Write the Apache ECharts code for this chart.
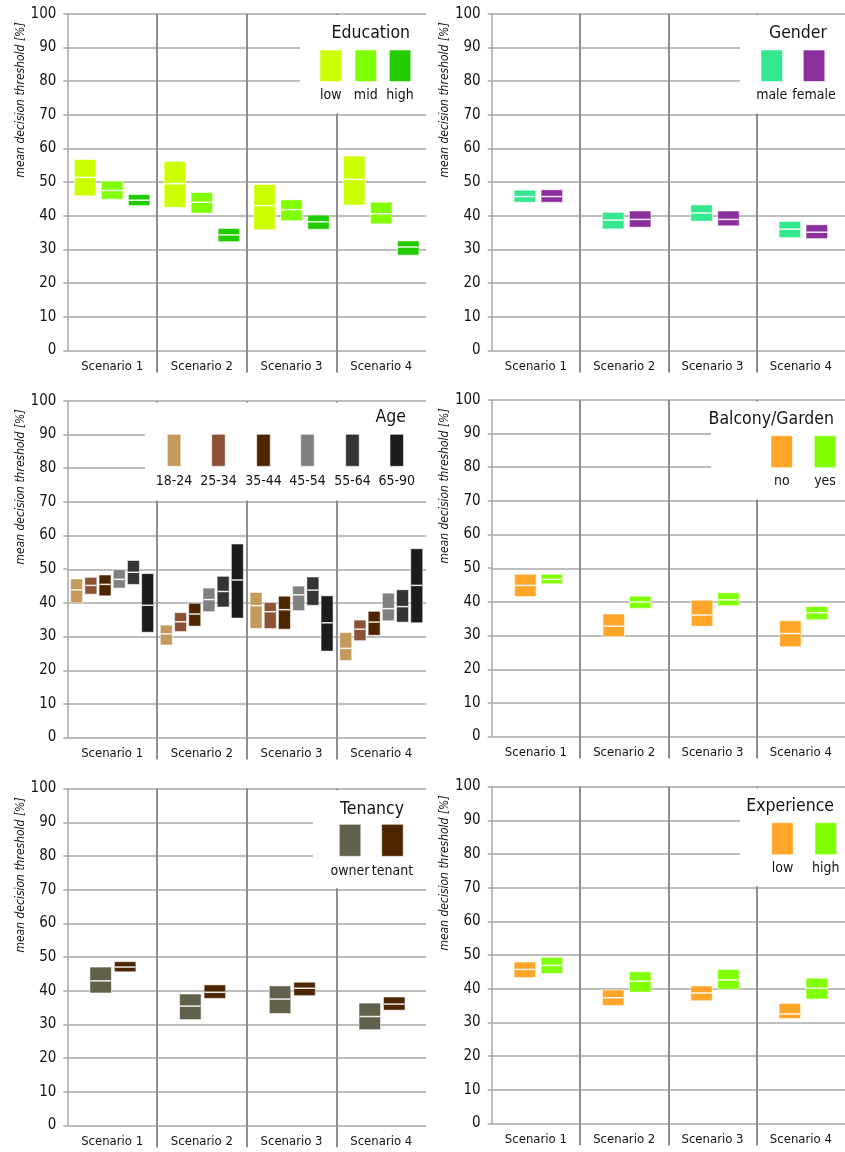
<!DOCTYPE html>
<html>
<head>
<meta charset="utf-8">
<script src="https://cdn.jsdelivr.net/npm/echarts@6/dist/echarts.min.js"></script>
<style>
  html, body { margin: 0; padding: 0; background: #fff; }
  #chart { width: 845px; height: 1152px; }
</style>
</head>
<body>
<div id="chart"></div>
<script>
// ---- data: each entry is [lower, upper, mean] per scenario ----
const scenarios = ['Scenario 1', 'Scenario 2', 'Scenario 3', 'Scenario 4'];
const yTitle = 'mean decision threshold [%]';

const eduGroups = ['low', 'mid', 'high'];
const eduLow  = [[45.9, 56.7, 51.4], [42.5, 56.1, 49.5], [35.8, 49.3, 43.0], [43.2, 57.7, 50.8]];
const eduMid  = [[44.9, 50.3, 47.5], [40.8, 46.9, 44.0], [38.5, 44.7, 41.8], [37.6, 44.0, 40.6]];
const eduHigh = [[43.0, 46.3, 44.6], [32.3, 36.2, 34.3], [36.0, 40.2, 38.2], [28.3, 32.5, 30.7]];

const genderGroups = ['male', 'female'];
const genderMale   = [[44.0, 47.6, 45.7], [36.1, 41.0, 38.7], [38.4, 43.2, 40.8], [33.5, 38.3, 36.0]];
const genderFemale = [[44.0, 47.7, 45.7], [36.6, 41.4, 38.9], [37.0, 41.4, 38.9], [33.2, 37.3, 35.1]];

const ageGroups = ['18-24', '25-34', '35-44', '45-54', '55-64', '65-90'];
const age1824 = [[40.0, 47.1, 43.9], [27.5, 33.4, 30.8], [32.4, 43.1, 39.2], [22.9, 31.2, 26.5]];
const age2534 = [[42.6, 47.6, 45.2], [31.5, 37.1, 34.4], [32.4, 40.1, 37.4], [28.8, 34.9, 32.2]];
const age3544 = [[42.1, 48.3, 45.5], [33.1, 39.9, 36.7], [32.2, 42.0, 38.0], [30.4, 37.5, 34.3]];
const age4554 = [[44.4, 49.9, 47.0], [37.4, 44.4, 41.0], [37.7, 45.0, 42.4], [34.7, 42.9, 38.3]];
const age5564 = [[45.5, 52.6, 49.1], [38.8, 47.9, 43.4], [39.3, 47.7, 43.8], [34.3, 43.9, 38.9]];
const age6590 = [[31.3, 48.7, 39.3], [35.5, 57.5, 46.8], [25.7, 42.1, 34.1], [34.1, 56.1, 45.2]];

const balconyGroups = ['no', 'yes'];
const balconyNo  = [[41.6, 48.2, 44.9], [29.7, 36.4, 32.8], [32.8, 40.5, 36.1], [26.7, 34.4, 30.6]];
const balconyYes = [[45.4, 48.2, 46.7], [38.1, 41.7, 40.0], [38.9, 42.7, 40.6], [34.7, 38.6, 36.8]];

const tenancyGroups = ['owner', 'tenant'];
const tenancyOwner  = [[39.3, 47.0, 42.9], [31.4, 39.0, 35.4], [33.2, 41.4, 37.5], [28.4, 36.3, 32.3]];
const tenancyTenant = [[45.6, 48.6, 47.0], [37.7, 41.7, 39.5], [38.5, 42.5, 40.7], [34.2, 38.1, 36.0]];

const expGroups = ['low', 'high'];
const expLow  = [[43.3, 47.9, 45.7], [35.0, 39.6, 37.3], [36.4, 40.8, 38.7], [31.1, 35.6, 32.5]];
const expHigh = [[44.5, 49.3, 46.9], [39.0, 45.0, 42.2], [39.8, 45.7, 42.6], [36.9, 43.1, 40.1]];

// ---- styling & layout ----
const FONT = '"DejaVu Sans Condensed", "Liberation Sans Narrow", sans-serif';
const TEXT = '#141414';
const GRID_LINE = '#a8a8a8';
const SEP_LINE = '#8e8e8e';
const GRID_W = 358.8;
const GRID_H = 336.7;
const SEP_EXT = 22;

const panels = [
  {
    title: 'Education', groups: eduGroups, values: [eduLow, eduMid, eduHigh],
    colors: ['#ccff00', '#80ff00', '#22cc00'],
    offsets: [-27, 0, 27], boxW: 21.5,
    left: 67.3, top: 13.7, yTitleX: 21, yTitleY: 100,
    cover: [300, 15, 130, 98.5],
    titleRight: 410, titleY: 33,
    swX: [320, 355, 389.3], swY: 50, swW: 21.5, swH: 31.5, labY: 95
  },
  {
    title: 'Gender', groups: genderGroups, values: [genderMale, genderFemale],
    colors: ['#33e88e', '#8a2f9c'],
    offsets: [-11, 16], boxW: 21.5,
    left: 491.7, top: 13.7, yTitleX: 445, yTitleY: 100,
    cover: [740, 15, 110, 98.5],
    titleRight: 827, titleY: 33,
    swX: [761, 803.3], swY: 50, swW: 21.5, swH: 31.5, labY: 95
  },
  {
    title: 'Age', groups: ageGroups,
    values: [age1824, age2534, age3544, age4554, age5564, age6590],
    colors: ['#c49a5c', '#8b5236', '#4d2600', '#808080', '#343434', '#1c1c1c'],
    offsets: [-35.5, -21.3, -7.1, 7.1, 21.3, 35.5], boxW: 12,
    left: 67.3, top: 400.9, yTitleX: 21, yTitleY: 487,
    cover: [145, 402.5, 285, 98],
    titleRight: 406, titleY: 417,
    swX: [167.3, 211.7, 256.7, 300.7, 345.7, 390], swY: 434.3, swW: 13.5, swH: 32, labY: 481
  },
  {
    title: 'Balcony/Garden', groups: balconyGroups, values: [balconyNo, balconyYes],
    colors: ['#ffa628', '#80ff00'],
    offsets: [-10.5, 16], boxW: 21.5,
    left: 491.7, top: 399.9, yTitleX: 445, yTitleY: 486,
    cover: [711, 401.5, 139, 98],
    titleRight: 834, titleY: 419,
    swX: [771, 814.3], swY: 435.7, swW: 21.5, swH: 32, labY: 481
  },
  {
    title: 'Tenancy', groups: tenancyGroups, values: [tenancyOwner, tenancyTenant],
    colors: ['#61614b', '#4d2600'],
    offsets: [-11.5, 13], boxW: 21.5,
    left: 67.3, top: 788.6, yTitleX: 21, yTitleY: 875,
    cover: [313, 790.2, 117, 98],
    titleRight: 404, titleY: 809,
    swX: [339.3, 381.7], swY: 824.3, swW: 21.5, swH: 32, labY: 871
  },
  {
    title: 'Experience', groups: expGroups, values: [expLow, expHigh],
    colors: ['#ffa628', '#80ff00'],
    offsets: [-11, 16], boxW: 21.5,
    left: 491.7, top: 786.6, yTitleX: 445, yTitleY: 873,
    cover: [740, 788.2, 110, 98],
    titleRight: 834, titleY: 806,
    swX: [771.7, 815], swY: 822.7, swW: 21.5, swH: 32, labY: 868
  }
];

// box with a white mean line, placed at a pixel offset from the category centre
function makeRenderItem(offset, boxW, color) {
  return function (params, api) {
    const idx = api.value(0);
    const lo = api.coord([idx, api.value(1)]);
    const hi = api.coord([idx, api.value(2)]);
    const mn = api.coord([idx, api.value(3)]);
    const x = lo[0] + offset - boxW / 2;
    return {
      type: 'group',
      children: [
        {
          type: 'rect',
          shape: { x: x, y: hi[1], width: boxW, height: lo[1] - hi[1] },
          style: { fill: color, stroke: 'rgba(255,255,255,0.55)', lineWidth: 1 }
        },
        {
          type: 'line',
          shape: { x1: x + 0.5, y1: mn[1], x2: x + boxW - 0.5, y2: mn[1] },
          style: { stroke: 'rgba(255,255,255,0.9)', lineWidth: 1.5 }
        }
      ]
    };
  };
}

const grids = [], xAxes = [], yAxes = [], series = [], graphics = [];

panels.forEach(function (p, pi) {
  const g = pi * 2;
  // main plotting area
  grids.push({ left: p.left, top: p.top, width: GRID_W, height: GRID_H });
  // overlay area for the scenario separators (reaching below the axis)
  grids.push({ left: p.left, top: p.top, width: GRID_W, height: GRID_H + SEP_EXT });

  xAxes.push({
    gridIndex: g, type: 'category', data: scenarios, boundaryGap: true,
    axisLine: { show: false }, axisTick: { show: false }, splitLine: { show: false },
    axisLabel: { fontSize: 13, color: TEXT, fontFamily: FONT, margin: 10, interval: 0 }
  });
  xAxes.push({
    gridIndex: g + 1, type: 'category', data: scenarios, boundaryGap: true,
    axisLine: { show: false }, axisTick: { show: false }, axisLabel: { show: false },
    splitLine: {
      show: true, interval: 0, showMinLine: false, showMaxLine: false,
      lineStyle: { color: SEP_LINE, width: 2 }
    }
  });

  yAxes.push({
    gridIndex: g, type: 'value', min: 0, max: 100, interval: 10,
    axisLine: { show: true, lineStyle: { color: GRID_LINE, width: 1.5 } },
    axisTick: { show: true, length: 4, lineStyle: { color: GRID_LINE, width: 1.5 } },
    axisLabel: { fontSize: 15, color: TEXT, fontFamily: FONT, margin: 11 },
    splitLine: { show: true, lineStyle: { color: GRID_LINE, width: 1.5 } }
  });
  yAxes.push({ gridIndex: g + 1, type: 'value', min: 0, max: 100, show: false });

  p.groups.forEach(function (name, k) {
    series.push({
      type: 'custom',
      name: p.title + ' ' + name,
      xAxisIndex: g, yAxisIndex: g,
      z: 3,
      renderItem: makeRenderItem(p.offsets[k], p.boxW, p.colors[k]),
      encode: { x: 0, y: [1, 2, 3] },
      data: p.values[k].map(function (v, i) { return [i, v[0], v[1], v[2]]; })
    });
  });

  // axis title
  graphics.push({
    type: 'text', x: p.yTitleX, y: p.yTitleY, rotation: Math.PI / 2, z: 20,
    style: {
      text: yTitle, fill: TEXT, fontSize: 12, fontStyle: 'italic', fontFamily: FONT,
      align: 'center', verticalAlign: 'middle'
    }
  });
  // legend panel
  graphics.push({
    type: 'rect', z: 10,
    shape: { x: p.cover[0], y: p.cover[1], width: p.cover[2], height: p.cover[3] },
    style: { fill: '#ffffff' }
  });
  graphics.push({
    type: 'text', x: p.titleRight, y: p.titleY, z: 20,
    style: {
      text: p.title, fill: TEXT, fontSize: 17.5, fontFamily: FONT,
      align: 'right', verticalAlign: 'middle'
    }
  });
  p.groups.forEach(function (name, k) {
    graphics.push({
      type: 'rect', z: 20,
      shape: { x: p.swX[k], y: p.swY, width: p.swW, height: p.swH },
      style: { fill: p.colors[k], stroke: 'rgba(255,255,255,0.55)', lineWidth: 1 }
    });
    graphics.push({
      type: 'text', x: p.swX[k] + p.swW / 2, y: p.labY, z: 20,
      style: {
        text: name, fill: TEXT, fontSize: 14, fontFamily: FONT,
        align: 'center', verticalAlign: 'middle'
      }
    });
  });
});

const chart = echarts.init(document.getElementById('chart'), null, { renderer: 'canvas' });
chart.setOption({
  backgroundColor: '#ffffff',
  animation: false,
  grid: grids,
  xAxis: xAxes,
  yAxis: yAxes,
  series: series,
  graphic: graphics
});
</script>
</body>
</html>
